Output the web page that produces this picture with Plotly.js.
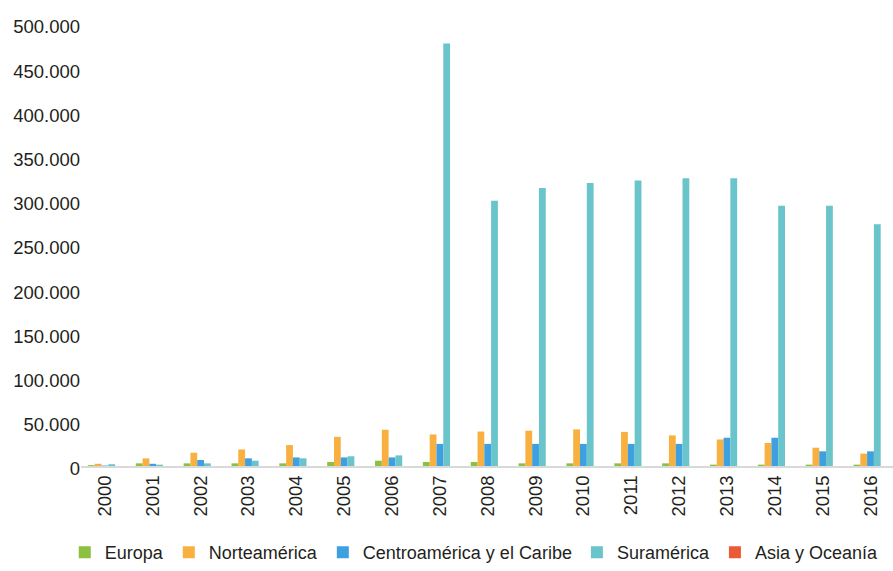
<!DOCTYPE html>
<html>
<head>
<meta charset="utf-8">
<script src="https://cdn.plot.ly/plotly-3.0.1.min.js"></script>
<style>html,body{margin:0;padding:0;background:#fff;}#chart{width:893px;height:571px;}</style>
</head>
<body>
<div id="chart"></div>
<script>
const years = ['2000','2001','2002','2003','2004','2005','2006','2007','2008','2009','2010','2011','2012','2013','2014','2015','2016'];
const europa = [1000,3000,3000,3000,3000,4500,6000,4500,4500,3000,3000,3000,3000,1500,1500,1500,1500];
const norteamerica = [2500,8600,15000,18700,23700,33000,41000,35700,39000,40000,41400,38600,34600,30000,26000,20700,14000];
const centroamerica = [500,2500,6800,8700,9700,9700,9700,25000,25000,25000,25000,25000,25000,32000,32000,16600,16600];
const suramerica = [2000,1500,3000,6000,8700,11000,12000,478000,300000,314500,320000,323000,325500,325500,294500,294500,273500];
const asiaOceania = [0,0,0,0,0,0,0,0,0,0,0,0,0,0,0,0,0];

const names = ['Europa','Norteamérica','Centroamérica y el Caribe','Suramérica','Asia y Oceanía'];
const series = [europa, norteamerica, centroamerica, suramerica, asiaOceania];
const colors = ['#8CC03F','#F8B040','#3FA0E0','#6AC4CB','#EA5A34'];

const font = 'Liberation Sans, Arial, sans-serif';
const traces = series.map((s,i)=>({
  type:'bar', x: years, y: s, name: names[i],
  marker:{color: colors[i]}, hoverinfo:'skip'
}));

const layout = {
  width:893, height:571,
  margin:{l:81, r:0, t:24, b:102},
  separators: ',.',
  barmode:'group', bargap:0.29, bargroupgap:0,
  paper_bgcolor:'#fff', plot_bgcolor:'#fff',
  font:{family:font, color:'#231f20', size:18},
  xaxis:{type:'category', range:[-0.5,16.47], showline:true, linecolor:'#d9d9d9', linewidth:2,
         tickangle:-90, tickfont:{family:font, size:18.5, color:'#231f20'}, ticks:'', showgrid:false, automargin:false},
  yaxis:{range:[0,500000], dtick:50000, tickformat:',.0f', showgrid:false, zeroline:false, showline:false,
         ticks:'', tickfont:{family:font, size:18.5, color:'#231f20'}, ticklabelstandoff:0, ticklabelshift:3, automargin:false},
  showlegend:true,
  legend:{orientation:'h', x:-0.02, xanchor:'left', y:-0.196, yanchor:'middle',
          font:{family:font, size:18, color:'#231f20'}, itemwidth:30, traceorder:'normal'}
};
Plotly.newPlot('chart', traces, layout, {displayModeBar:false, staticPlot:true});
</script>
</body>
</html>
